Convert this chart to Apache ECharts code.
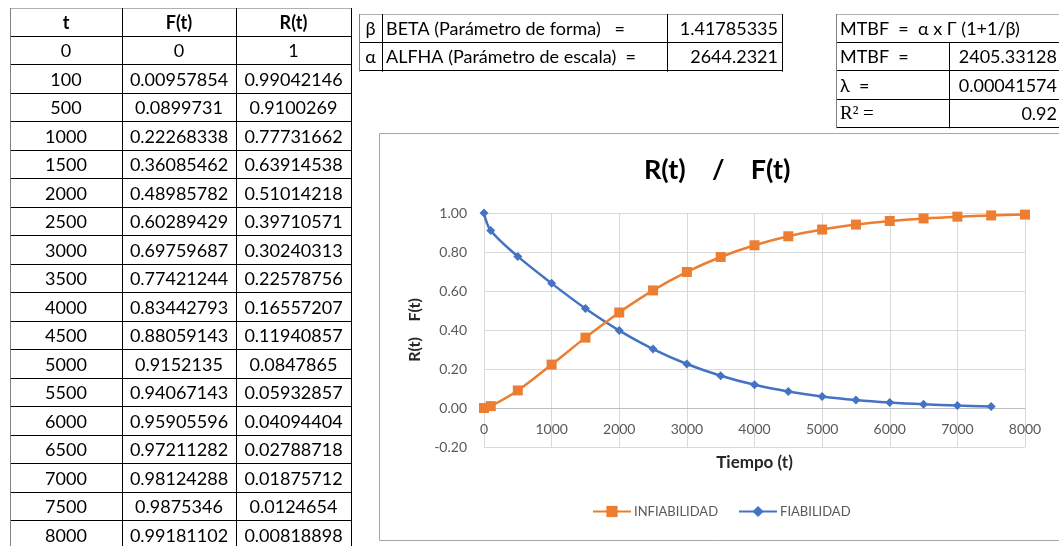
<!DOCTYPE html>
<html>
<head>
<meta charset="utf-8">
<script src="https://cdn.jsdelivr.net/npm/echarts@6/dist/echarts.min.js"></script>
<style>
html,body{margin:0;padding:0;background:#fff;}
#chart{position:absolute;left:0;top:0;width:1059px;height:546px;}
</style>
</head>
<body>
<div id="chart"></div>
<script>
// ---- Table data (as shown in the sheet) ----
const tableHeader = ['t', 'F(t)', 'R(t)'];
const tableT = ['0','100','500','1000','1500','2000','2500','3000','3500','4000','4500','5000','5500','6000','6500','7000','7500','8000'];
const tableF = ['0','0.00957854','0.0899731','0.22268338','0.36085462','0.48985782','0.60289429','0.69759687','0.77421244','0.83442793','0.88059143','0.9152135','0.94067143','0.95905596','0.97211282','0.98124288','0.9875346','0.99181102'];
const tableR = ['1','0.99042146','0.9100269','0.77731662','0.63914538','0.51014218','0.39710571','0.30240313','0.22578756','0.16557207','0.11940857','0.0847865','0.05932857','0.04094404','0.02788718','0.01875712','0.0124654','0.00818898'];

const paramSymbols = ['β', 'α'];
const paramLabels = ['BETA (Parámetro de forma)   =', 'ALFHA (Parámetro de escala)  ='];
const paramValues = ['1.41785335', '2644.2321'];

const mtbfFormula = 'MTBF  =  α x Γ (1+1/β)';
const mtbfLabels = ['MTBF  =', 'λ  =', 'R² ='];
const mtbfValues = ['2405.33128', '0.00041574', '0.92'];

// ---- Chart data (as plotted) ----
const infiabT = [0,100,500,1000,1500,2000,2500,3000,3500,4000,4500,5000,5500,6000,6500,7000,7500,8000];
const infiabF = [0,0.00957854,0.0899731,0.22268338,0.36085462,0.48985782,0.60289429,0.69759687,0.77421244,0.83442793,0.88059143,0.9152135,0.94067143,0.95905596,0.97211282,0.98124288,0.9875346,0.99181102];
const fiabT = [0,100,500,1000,1500,2000,2500,3000,3500,4000,4500,5000,5500,6000,6500,7000,7500];
const fiabR = [1,0.9100269,0.77731662,0.63914538,0.51014218,0.39710571,0.30240313,0.22578756,0.16557207,0.11940857,0.0847865,0.05932857,0.04094404,0.02788718,0.01875712,0.0124654,0.00818898];

const chartTitle = 'R(t)    /    F(t)';
const xName = 'Tiempo (t)';
const yName = 'R(t)    F(t)';

// ---- build table graphics ----
const FONT = 'Lato';
const g = [];
function px(v){ return Math.floor(v) + 0.5; }
function hline(x1, x2, y, c){ g.push({type:'line', silent:true, shape:{x1:x1, y1:px(y), x2:x2, y2:px(y)}, style:{stroke:c||'#000', lineWidth:1}}); }
function vline(x, y1, y2, c){ g.push({type:'line', silent:true, shape:{x1:px(x), y1:y1, x2:px(x), y2:y2}, style:{stroke:c||'#000', lineWidth:1}}); }
function txt(s, x, y, align, opts){
  opts = opts || {};
  g.push({type:'text', silent:true, style:{text:s, x:x, y:y, align:align, verticalAlign:'middle',
    fontFamily: opts.family || FONT, fontSize: opts.size || 18, fontWeight: opts.weight || 'normal', fill: opts.fill || '#000'}});
}

// left table
const colX = [10, 122, 236, 351];
const headTop = 8, headBot = 36, rowH = 28.5;
hline(colX[0], colX[3], headTop, '#b0b0b0');
hline(colX[0], colX[3], headBot);
for (let i = 0; i < tableT.length; i++) hline(colX[0], colX[3], headBot + rowH * (i + 1));
vline(colX[0], headTop, 546, '#808080');
for (let c = 1; c < 4; c++) vline(colX[c], headTop, 546);
const colC = [(colX[0]+colX[1])/2, (colX[1]+colX[2])/2, (colX[2]+colX[3])/2];
tableHeader.forEach((h, c) => txt(h, colC[c], (headTop + headBot) / 2 + 1, 'center', {weight:'bold'}));
for (let i = 0; i < tableT.length; i++) {
  const cy = headBot + rowH * i + rowH / 2 + 1;
  txt(tableT[i], colC[0], cy, 'center');
  txt(tableF[i], colC[1], cy, 'center');
  txt(tableR[i], colC[2], cy, 'center');
}

// parameter table
const pX = [359, 382, 667, 782];
const pY = [14, 42.3, 70.7];
hline(pX[0], pX[3], pY[0], '#b0b0b0');
hline(pX[0], pX[3], pY[1]);
hline(pX[0], pX[3], pY[2]);
vline(pX[0], pY[0], pY[2] + 1, '#808080');
for (let c = 1; c < 4; c++) vline(pX[c], pY[0], pY[2] + 1);
for (let i = 0; i < 2; i++) {
  const cy = (pY[i] + pY[i+1]) / 2 + 1;
  txt(paramSymbols[i], (pX[0] + pX[1]) / 2, cy, 'center');
  txt(paramLabels[i], pX[1] + 4, cy, 'left');
  txt(paramValues[i], pX[3] - 4, cy, 'right');
}

// MTBF table
const mX = [836, 949, 1070];
const mY = [14, 42.3, 70.7, 99, 127.3];
hline(mX[0], mX[2], mY[0], '#b0b0b0');
for (let i = 1; i < 5; i++) hline(mX[0], mX[2], mY[i]);
vline(mX[0], mY[0], mY[4] + 1, '#808080');
vline(mX[1], mY[1], mY[4] + 1);
txt(mtbfFormula, mX[0] + 4, (mY[0] + mY[1]) / 2 + 1, 'left');
for (let i = 0; i < 3; i++) {
  const cy = (mY[i+1] + mY[i+2]) / 2 + 1;
  if (i === 2) txt(mtbfLabels[i], mX[0] + 4, cy, 'left', {family:'Liberation Serif', size:19});
  else txt(mtbfLabels[i], mX[0] + 4, cy, 'left');
  txt(mtbfValues[i], 1057, cy, 'right');
}

// chart frame
g.push({type:'rect', silent:true, z:-10, shape:{x:379.5, y:133.5, width:720, height:407}, style:{fill:'#fff', stroke:'#a6a6a6', lineWidth:1}});

const chart = echarts.init(document.getElementById('chart'), null, {renderer:'canvas'});
chart.setOption({
  animation: false,
  backgroundColor: '#fff',
  graphic: g,
  title: {
    text: chartTitle, left: 639, top: 152,
    textStyle: {fontFamily: FONT, fontSize: 27, fontWeight: 'bold', color: '#000'}
  },
  legend: {
    data: ['INFIABILIDAD', 'FIABILIDAD'],
    left: 587, top: 500, itemWidth: 38, itemHeight: 14, itemGap: 20,
    textStyle: {fontFamily: FONT, fontSize: 13, color: '#595959', padding:[0,0,0,-2]}
  },
  grid: {left: 484, top: 213, width: 541, height: 234, containLabel: false},
  xAxis: {
    type: 'value', min: 0, max: 8000, interval: 1000,
    name: xName, nameLocation: 'middle', nameGap: 7,
    nameTextStyle: {fontFamily: FONT, fontSize: 17, fontWeight: 'bold', color: '#262626'},
    axisLine: {show: true, onZero: true, lineStyle: {color: '#bfbfbf', width: 1}},
    axisTick: {show: false},
    axisLabel: {fontFamily: FONT, fontSize: 14, color: '#595959', margin: -25,
      formatter: v => String(v)},
    splitLine: {show: true, lineStyle: {color: '#d9d9d9', width: 1}}
  },
  yAxis: {
    type: 'value', min: -0.2, max: 1.0, interval: 0.2,
    name: yName, nameLocation: 'middle', nameGap: 53, nameRotate: 90,
    nameTextStyle: {fontFamily: FONT, fontSize: 16, fontWeight: 'bold', color: '#262626'},
    axisLine: {show: false},
    axisTick: {show: false},
    axisLabel: {fontFamily: FONT, fontSize: 14, color: '#595959', margin: 17,
      formatter: v => (Math.abs(v) < 1e-9 ? 0 : v).toFixed(2)},
    splitLine: {show: true, lineStyle: {color: '#d9d9d9', width: 1}}
  },
  series: [
    {
      name: 'FIABILIDAD', type: 'line', smooth: 0.35,
      data: fiabT.map((t, i) => [t, fiabR[i]]),
      symbol: 'diamond', symbolSize: 9,
      lineStyle: {color: '#4472C4', width: 2.5},
      itemStyle: {color: '#4472C4'}
    },
    {
      name: 'INFIABILIDAD', type: 'line', smooth: 0.35,
      data: infiabT.map((t, i) => [t, infiabF[i]]),
      symbol: 'rect', symbolSize: 10,
      lineStyle: {color: '#ED7D31', width: 2.5},
      itemStyle: {color: '#ED7D31'}
    }
  ]
});
</script>
</body>
</html>
